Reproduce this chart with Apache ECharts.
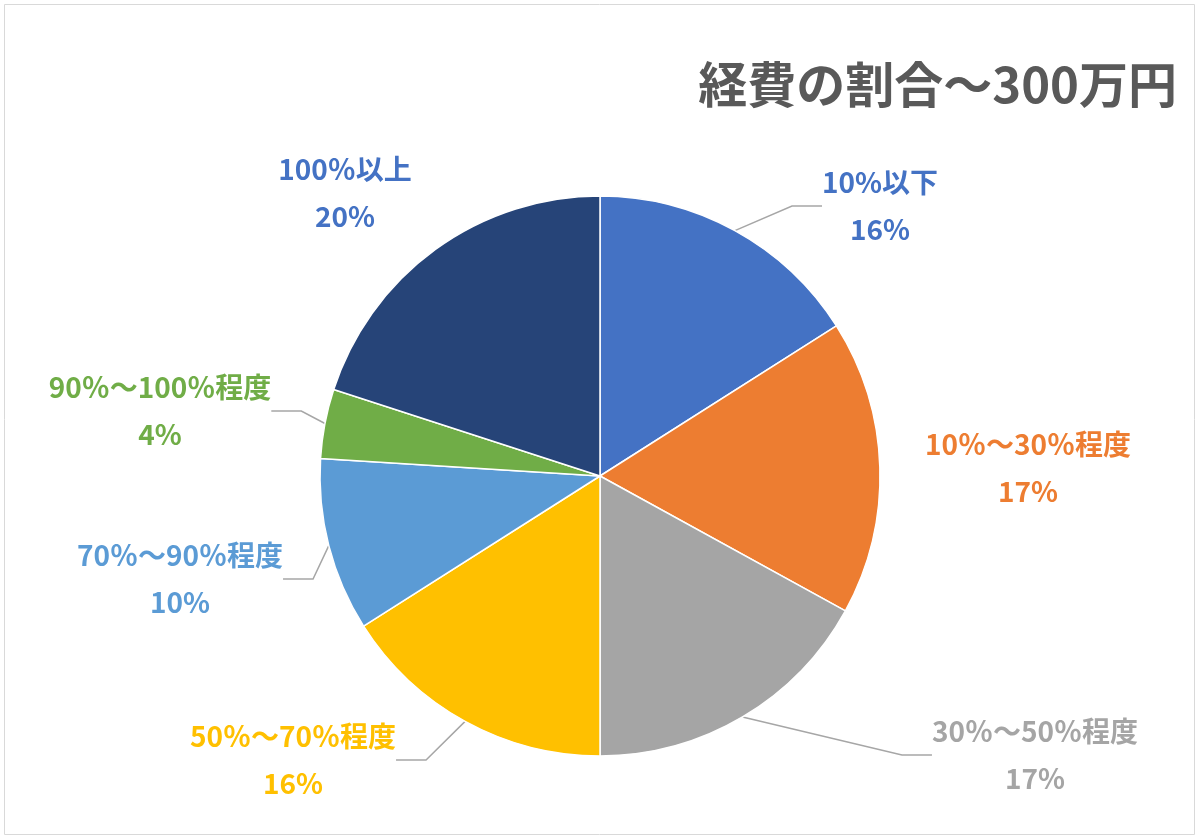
<!DOCTYPE html>
<html>
<head>
<meta charset="utf-8">
<script src="https://cdn.jsdelivr.net/npm/echarts@6/dist/echarts.min.js"></script>
<style>
html,body{margin:0;padding:0;background:#fff;}
#main{width:1200px;height:839px;}
</style>
</head>
<body>
<div id="main"></div>
<script>
// データ
var categories = ['10%以下', '10％～30％程度', '30％～50％程度', '50％～70％程度', '70％～90％程度', '90％～100％程度', '100％以上'];
var shares = [16, 17, 17, 16, 10, 4, 20];
var sliceColors = ['#4472C4', '#ED7D31', '#A5A5A5', '#FFC000', '#5B9BD5', '#70AD47', '#264478'];
var labelColors = ['#4472C4', '#ED7D31', '#A5A5A5', '#FFC000', '#5B9BD5', '#70AD47', '#4472C4'];
// ラベルの中心位置 (px)
var labelPos = [[880, 206], [1028, 468], [1035, 755], [293, 760], [180, 579], [160, 411], [345, 193]];
var noLine = [1, 6]; // 引き出し線なし

var pieData = categories.map(function (name, i) {
	return {
		value: shares[i],
		name: name,
		itemStyle: {color: sliceColors[i]},
		label: {color: labelColors[i]},
		labelLine: {show: noLine.indexOf(i) < 0}
	};
});

var chart = echarts.init(document.getElementById('main'));
chart.setOption({
	animation: false,
	title: {
		text: '経費の割合～300万円',
		right: 18,
		top: 55,
		textStyle: {
			fontFamily: 'Noto Sans CJK JP',
			fontSize: 49,
			fontWeight: 'bold',
			color: '#595959'
		}
	},
	graphic: [{
		type: 'rect',
		shape: {x: 4.5, y: 4.5, width: 1190, height: 830},
		style: {fill: 'none', stroke: '#d9d9d9', lineWidth: 1}
	}],
	series: [{
		type: 'pie',
		center: [600, 476],
		radius: 280,
		startAngle: 90,
		clockwise: true,
		itemStyle: {borderColor: '#fff', borderWidth: 1.5},
		label: {
			show: true,
			formatter: '{b}\n{d}%',
			fontFamily: 'Noto Sans CJK JP',
			fontSize: 28,
			fontWeight: 'bold',
			lineHeight: 47,
			align: 'center'
		},
		labelLine: {
			show: true,
			lineStyle: {color: '#a6a6a6', width: 1.5}
		},
		labelLayout: function (params) {
			var p = labelPos[params.dataIndex];
			return {x: p[0], y: p[1], align: 'center', verticalAlign: 'middle'};
		},
		data: pieData
	}]
});
</script>
</body>
</html>
